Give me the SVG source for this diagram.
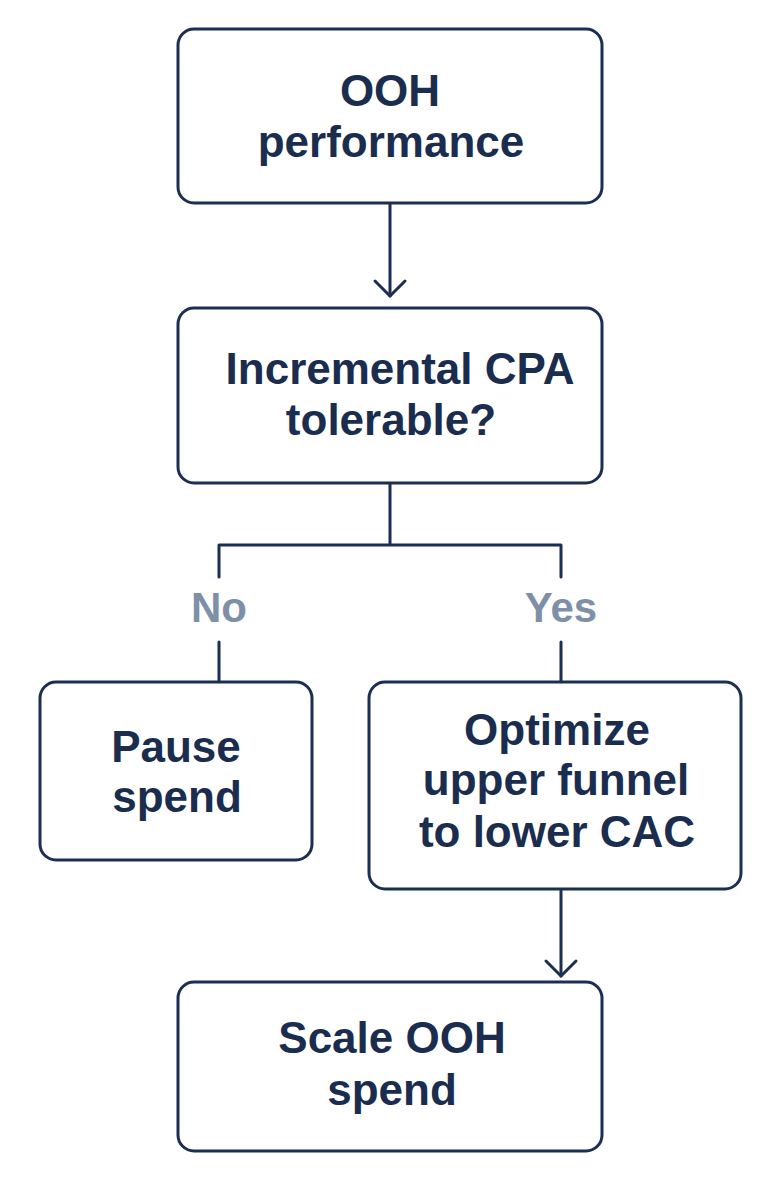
<svg xmlns="http://www.w3.org/2000/svg" width="780" height="1198" viewBox="0 0 780 1198">
<style>
.box{fill:#ffffff;stroke:#1c2f52;stroke-width:3}
.t{font-family:"Liberation Sans",Arial,sans-serif;font-weight:bold;font-size:44px;fill:#1b2d4f;text-anchor:middle}
.lbl{font-family:"Liberation Sans",Arial,sans-serif;font-weight:bold;font-size:42px;fill:#7d90a8;text-anchor:middle}
.ln{fill:none;stroke:#1c2f52;stroke-width:3;stroke-linecap:round;stroke-linejoin:round}
</style>
<rect width="780" height="1198" fill="#ffffff"/>
<g id="connectors">
<path class="ln" d="M390 203 V296"/>
<path class="ln" d="M375 281 L390 296 L405 281"/>
<path class="ln" d="M390 483 V545 M219 577 V545 H561 V577"/>
<path class="ln" d="M219 642 V682 M561 642 V682"/>
<path class="ln" d="M561 889 V976"/>
<path class="ln" d="M546 961 L561 976 L576 961"/>
<text class="lbl" x="219" y="622">No</text>
<text class="lbl" x="561" y="622">Yes</text>
</g>
<g id="n1">
<rect class="box" x="178" y="29" width="424" height="174" rx="16"/>
<text class="t" x="390" y="106">OOH</text>
<text class="t" x="391" y="157">performance</text>
</g>
<g id="n2">
<rect class="box" x="178" y="308" width="424" height="175" rx="16"/>
<text class="t" x="400" y="384">Incremental CPA</text>
<text class="t" x="391" y="435">tolerable?</text>
</g>
<g id="n3">
<rect class="box" x="40" y="682" width="272" height="178" rx="16"/>
<text class="t" x="176" y="762">Pause</text>
<text class="t" x="177" y="812">spend</text>
</g>
<g id="n4">
<rect class="box" x="369" y="682" width="372" height="207" rx="16"/>
<text class="t" x="557" y="745">Optimize</text>
<text class="t" x="556" y="795">upper funnel</text>
<text class="t" x="557" y="847">to lower CAC</text>
</g>
<g id="n5">
<rect class="box" x="178" y="982" width="424" height="169" rx="16"/>
<text class="t" x="392" y="1053">Scale OOH</text>
<text class="t" x="392" y="1105">spend</text>
</g>
</svg>
